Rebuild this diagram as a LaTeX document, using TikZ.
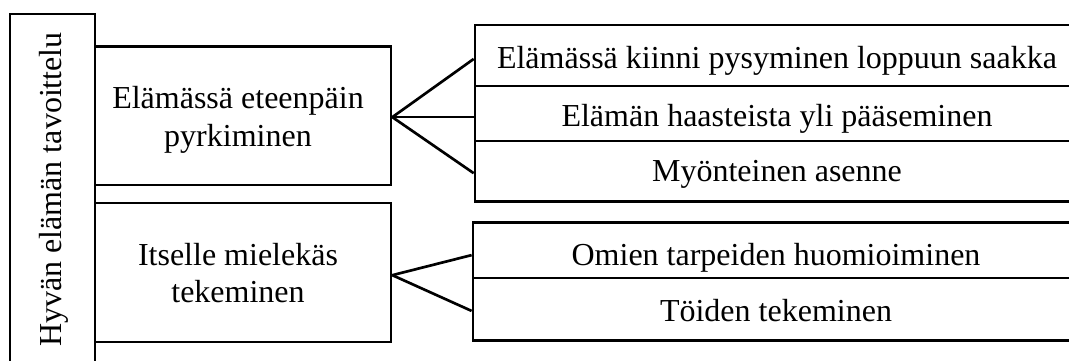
\documentclass[tikz,border=0pt]{standalone}
\usepackage{fontspec}
\setmainfont{Liberation Serif}
\begin{document}
\begin{tikzpicture}[x=0.375pt,y=-0.375pt,
  box/.style={draw=black,line width=1pt,rectangle,inner sep=0pt},
  txt/.style={inner sep=0pt,anchor=base,font=\fontsize{12}{14}\selectfont},
  conn/.style={draw=black,line width=1pt}]
\useasboundingbox (0,0) rectangle (1069,360);
% main vertical box
\node[box,rotate=90,minimum width=131.6pt,minimum height=31.9pt] (main) at (52.5,189.5) {};
\node[txt,rotate=90] (maint) at (61.5,189.5) {Hyvän elämän tavoittelu};
% level-1 boxes
\node[box,minimum width=111pt,minimum height=51.9pt] (boxA) at (243,115.8) {};
\node[txt] (a1) at (238,108.3) {Elämässä eteenpäin};
\node[txt] (a2) at (238,146.7) {pyrkiminen};
\node[box,minimum width=111pt,minimum height=52.1pt] (boxB) at (243,272.5) {};
\node[txt] (b1) at (238,265.7) {Itselle mielekäs};
\node[txt] (b2) at (238,302.7) {tekeminen};
% level-2 rows (top group)
\node[box,minimum width=226.5pt,minimum height=22.9pt] (row1) at (777,55.5) {};
\node[txt] (r1) at (777,68.3) {Elämässä kiinni pysyminen loppuun saakka};
\node[box,minimum width=226.5pt,minimum height=20.6pt] (row2) at (777,113.5) {};
\node[txt] (r2) at (777,126) {Elämän haasteista yli pääseminen};
\node[box,minimum width=226.5pt,minimum height=22.8pt] (row3) at (777,171.3) {};
\node[txt] (r3) at (777,181.7) {Myönteinen asenne};
% level-2 rows (bottom group)
\node[box,minimum width=227.3pt,minimum height=20.7pt] (row4) at (776,250.3) {};
\node[txt] (r4) at (776,265) {Omien tarpeiden huomioiminen};
\node[box,minimum width=227.3pt,minimum height=23.5pt] (row5) at (776,309.3) {};
\node[txt] (r5) at (776,321.7) {Töiden tekeminen};
% connectors
\draw[conn] ([yshift=-0.5pt]boxA.east) -- ([yshift=-1.3pt]row1.west);
\draw[conn] ([yshift=-0.5pt]boxA.east) -- ([yshift=-0.5pt]boxA.east -| row2.west);
\draw[conn] ([yshift=-0.5pt]boxA.east) -- ([yshift=-0.7pt]row3.west);
\draw[conn] ([yshift=-1pt]boxB.east) -- ([yshift=-1.8pt]row4.west);
\draw[conn] ([yshift=-1pt]boxB.east) -- ([yshift=-0.6pt]row5.west);
\end{tikzpicture}
\end{document}
